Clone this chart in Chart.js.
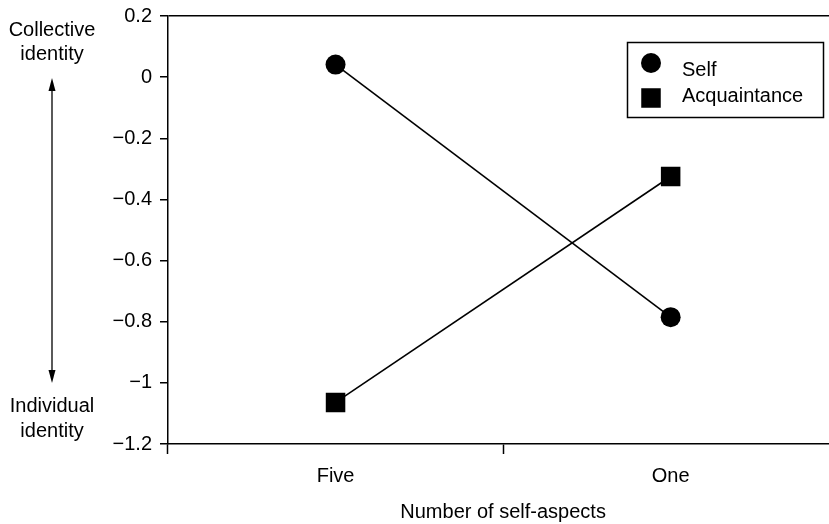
<!DOCTYPE html>
<html>
<head>
<meta charset="utf-8">
<script src="https://cdn.jsdelivr.net/npm/chart.js@4/dist/chart.umd.min.js"></script>
<style>
  html, body { margin: 0; padding: 0; background: #fff; overflow: hidden; }
  #wrap { width: 829px; height: 524px; overflow: hidden; }
</style>
</head>
<body>
<div id="wrap"><canvas id="chart" width="852" height="524"></canvas></div>
<script>
// --- data ---
const categories = ['Five', 'One'];
const selfValues = [0.041, -0.785];
const acquaintanceValues = [-1.064, -0.325];
const yTicks = [0.2, 0, -0.2, -0.4, -0.6, -0.8, -1, -1.2];

const FONT = "'Liberation Sans', Arial, Helvetica, sans-serif";

function fmt(v) {
    const r = Math.round(v * 10) / 10;
    if (r === 0) return '0';
    return String(r).replace('-', '\u2212');
}

// side labels, arrow and the boxed legend
const extras = {
    id: 'extras',
    afterDraw(chart) {
        const ctx = chart.ctx;
        ctx.save();
        ctx.fillStyle = '#000';
        ctx.strokeStyle = '#000';
        ctx.font = '20px ' + FONT;
        ctx.textAlign = 'center';
        ctx.textBaseline = 'middle';
        ctx.fillText('Collective', 52, 30);
        ctx.fillText('identity', 52, 54);
        ctx.fillText('Individual', 52, 406);
        ctx.fillText('identity', 52, 431);

        // double arrow
        ctx.lineWidth = 1.3;
        ctx.beginPath();
        ctx.moveTo(52, 88);
        ctx.lineTo(52, 372);
        ctx.stroke();
        ctx.beginPath();
        ctx.moveTo(52, 78); ctx.lineTo(48.5, 91); ctx.lineTo(55.5, 91); ctx.closePath();
        ctx.fill();
        ctx.beginPath();
        ctx.moveTo(52, 383); ctx.lineTo(48.5, 370); ctx.lineTo(55.5, 370); ctx.closePath();
        ctx.fill();

        // legend
        ctx.lineWidth = 1.5;
        ctx.strokeRect(627.5, 42.5, 196, 75);
        const markY = [63, 98];
        const textY = [70, 96];
        ctx.textAlign = 'left';
        chart.data.datasets.forEach((ds, i) => {
            Chart.helpers.drawPoint(ctx, {
                pointStyle: ds.pointStyle,
                radius: ds.pointRadius,
                borderWidth: 0,
                rotation: 0
            }, 651, markY[i]);
            ctx.fillStyle = '#000';
            ctx.fillText(ds.label, 682, textY[i]);
        });
        ctx.restore();
    }
};

new Chart(document.getElementById('chart'), {
    type: 'line',
    data: {
        labels: categories,
        datasets: [{
            label: 'Self',
            data: selfValues,
            borderColor: '#000',
            backgroundColor: '#000',
            borderWidth: 1.6,
            pointStyle: 'circle',
            pointRadius: 10,
            pointBorderWidth: 0,
            pointBackgroundColor: '#000',
            tension: 0
        }, {
            label: 'Acquaintance',
            data: acquaintanceValues,
            borderColor: '#000',
            backgroundColor: '#000',
            borderWidth: 1.6,
            pointStyle: 'rect',
            pointRadius: 13.8,
            pointBorderWidth: 0,
            pointBackgroundColor: '#000',
            tension: 0
        }]
    },
    options: {
        responsive: false,
        animation: false,
        devicePixelRatio: 1,
        layout: { padding: { top: 16, right: 7, left: 0, bottom: 0 } },
        plugins: {
            legend: { display: false },
            tooltip: { enabled: false }
        },
        scales: {
            x: {
                offset: true,
                grid: {
                    offset: true,
                    drawOnChartArea: false,
                    drawTicks: true,
                    tickLength: 10,
                    tickColor: '#000',
                    tickWidth: 1.5
                },
                border: { display: true, color: '#000', width: 1.5 },
                ticks: {
                    color: '#000',
                    font: { family: FONT, size: 20 },
                    padding: 10,
                    maxRotation: 0
                },
                title: {
                    display: true,
                    text: 'Number of self-aspects',
                    color: '#000',
                    font: { family: FONT, size: 20 },
                    padding: { top: 16, bottom: 0 }
                },
                afterFit(scale) { scale.height = 80; }
            },
            y: {
                min: -1.2,
                max: 0.2,
                afterBuildTicks(scale) {
                    scale.ticks = yTicks.map(v => ({ value: v }));
                },
                grid: {
                    color: c => (c.tick && Math.abs(c.tick.value - 0.2) < 1e-6) ? '#000' : 'rgba(0,0,0,0)',
                    lineWidth: 1.5,
                    tickColor: '#000',
                    tickWidth: 1.5,
                    tickLength: 8
                },
                border: { display: true, color: '#000', width: 1.5 },
                ticks: {
                    color: '#000',
                    font: { family: FONT, size: 20 },
                    padding: 8,
                    callback: v => fmt(v)
                },
                afterFit(scale) {
                    scale.width = 168;
                    scale.paddingTop = 0;
                    scale.paddingBottom = 0;
                }
            }
        }
    },
    plugins: [extras]
});
</script>
</body>
</html>
